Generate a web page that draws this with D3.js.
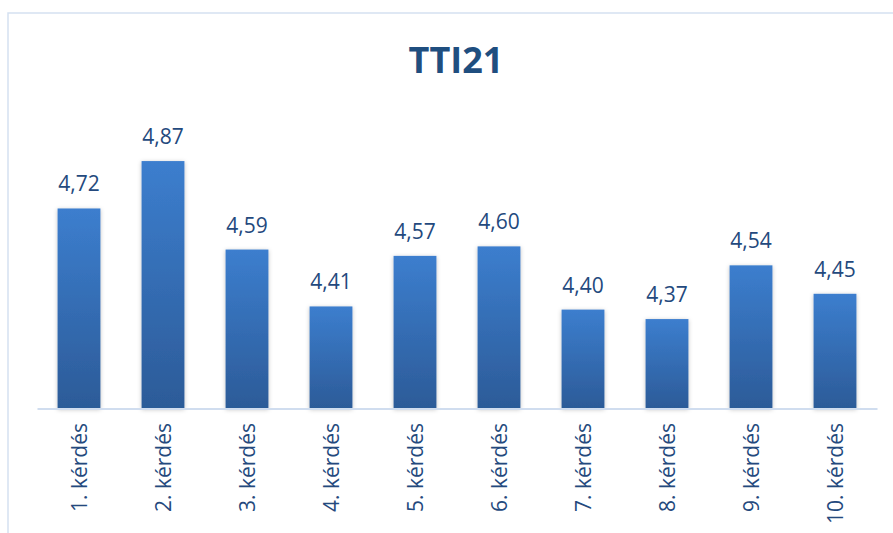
<!DOCTYPE html>
<html>
<head>
<meta charset="utf-8">
<script src="https://cdn.jsdelivr.net/npm/d3@7"></script>
<style>
  body { margin: 0; background: #fff; }
  svg { display: block; }
</style>
</head>
<body>
<main></main>
<script>
var categories = ["1. kérdés", "2. kérdés", "3. kérdés", "4. kérdés", "5. kérdés",
                  "6. kérdés", "7. kérdés", "8. kérdés", "9. kérdés", "10. kérdés"]
var values = [4.72, 4.87, 4.59, 4.41, 4.57, 4.60, 4.40, 4.37, 4.54, 4.45]
var title = "TTI21"
var yMin = 4.087, yMax = 5.0

var width = 893, height = 533
var textColor = "#24497d"

var svg = d3.select("main")
    .append("svg")
    .attr("width", width)
    .attr("height", height)

var defs = svg.append("defs")

var grad = defs.append("linearGradient")
    .attr("id", "barGrad")
    .attr("x1", 0).attr("y1", 0)
    .attr("x2", 0).attr("y2", 1)
grad.append("stop").attr("offset", "0%").attr("stop-color", "#3c7ece")
grad.append("stop").attr("offset", "100%").attr("stop-color", "#2c5b98")

var shadow = defs.append("filter")
    .attr("id", "shadow")
    .attr("x", "-30%").attr("y", "-10%")
    .attr("width", "160%").attr("height", "120%")
shadow.append("feDropShadow")
    .attr("dx", 0).attr("dy", 1)
    .attr("stdDeviation", 2)
    .attr("flood-color", "#000")
    .attr("flood-opacity", 0.25)

// chart frame (cut off by the picture on the right and bottom)
svg.append("rect")
    .attr("x", 8)
    .attr("y", 13)
    .attr("width", 900)
    .attr("height", 540)
    .attr("fill", "none")
    .attr("stroke", "#d5e1f1")
    .attr("stroke-width", 1.5)

var x = d3.scaleBand()
    .domain(categories)
    .range([37, 877])
    .paddingInner(0.49)
    .paddingOuter(0.245)

var y = d3.scaleLinear()
    .domain([yMin, yMax])
    .range([408.5, 408.5 - (yMax - yMin) * 316])

svg.append("text")
    .attr("x", 456)
    .attr("y", 73)
    .attr("text-anchor", "middle")
    .attr("fill", "#1f4e7f")
    .style("font-family", "'Open Sans', sans-serif")
    .style("font-weight", "bold")
    .style("font-size", "36px")
    .text(title)

svg.append("g")
    .selectAll("rect").data(values)
    .enter().append("rect")
        .attr("x", function(d, i) { return x(categories[i]) })
        .attr("y", function(d) { return y(d) })
        .attr("width", x.bandwidth())
        .attr("height", function(d) { return y(yMin) - y(d) })
        .attr("fill", "url(#barGrad)")
        .attr("filter", "url(#shadow)")

// baseline
var xAxis = d3.axisBottom(x).tickSize(0).tickFormat("")
svg.append("g")
    .attr("transform", "translate(0," + y(yMin) + ")")
    .call(xAxis)
    .call(function(g) {
        g.select(".domain").attr("stroke", "#d0ddef").attr("stroke-width", 2)
    })

var fmt = function(d) { return d3.format(".2f")(d).replace(".", ",") }

svg.append("g")
    .selectAll("text").data(values)
    .enter().append("text")
        .attr("x", function(d, i) { return x(categories[i]) + x.bandwidth() / 2 })
        .attr("y", function(d) { return y(d) - 17 })
        .attr("text-anchor", "middle")
        .attr("fill", textColor)
        .style("font-family", "'Open Sans', sans-serif")
        .style("font-size", "21px")
        .text(fmt)

svg.append("g")
    .selectAll("text").data(categories)
    .enter().append("text")
        .attr("transform", function(d) {
            return "translate(" + (x(d) + x.bandwidth() / 2) + ",423) rotate(-90)"
        })
        .attr("text-anchor", "end")
        .attr("dy", "0.36em")
        .attr("fill", textColor)
        .style("font-family", "'Open Sans', sans-serif")
        .style("font-size", "21px")
        .text(function(d) { return d })
</script>
</body>
</html>
